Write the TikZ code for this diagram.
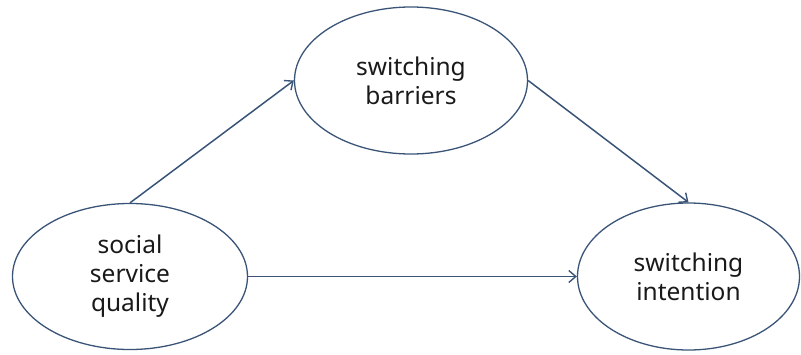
\documentclass[tikz,border=0pt]{standalone}
\usepackage{fontspec}
\setmainfont{Noto Sans}
\usetikzlibrary{shapes.geometric,arrows.meta}
\definecolor{edgeblue}{HTML}{3A5478}
\tikzset{
  construct/.style={ellipse, draw=edgeblue, line width=1.3pt, inner sep=0pt,
    align=center, font=\fontsize{24.5}{29}\selectfont, text=black!90},
  path/.style={draw=edgeblue, line width=1.5pt,
    -{Straight Barb[length=7pt,width=12pt,line width=1.4pt]}}
}
\begin{document}
\begin{tikzpicture}[x=1pt,y=-1pt]
  \useasboundingbox (0,0) rectangle (801,354);
  \node[construct, minimum width=233pt, minimum height=147pt] (sb) at (411,80.5) {switching\\barriers};
  \node[construct, minimum width=235pt, minimum height=146pt] (sq) at (130,276.5) {social\\service\\quality};
  \node[construct, minimum width=222pt, minimum height=147pt] (si) at (688.5,276.5) {switching\\intention};
  \draw[path] (sq.north) -- (sb.west);
  \draw[path] (sb.east) -- (si.north);
  \draw[path] (sq.east) -- (si.west);
\end{tikzpicture}
\end{document}
